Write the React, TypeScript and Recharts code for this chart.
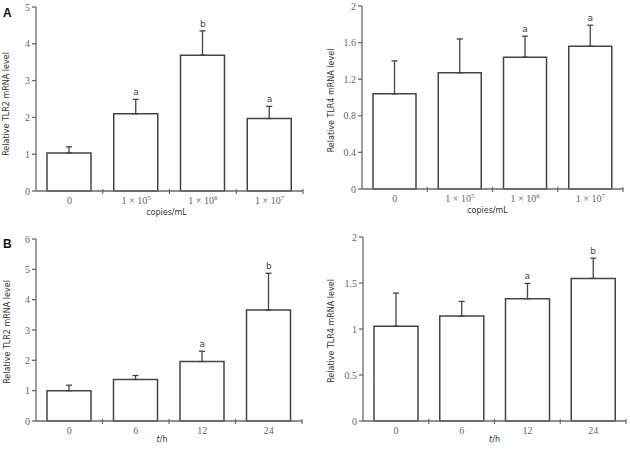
import React from 'react';
import { ComposedChart, Bar, Line, XAxis, YAxis, ErrorBar, LabelList, Label } from 'recharts';

// categories
const doseCats = ['0', '1 × 10', '1 × 10', '1 × 10'];
const doseExps = ['', '5', '6', '7'];
const timeCats = ['0', '6', '12', '24'];
const timeExps = ['', '', '', ''];

// TLR2 / TLR4 vs virus dose
const tlr2Dose = [1.03, 2.1, 3.69, 1.97];
const tlr2DoseErr = [0.17, 0.39, 0.66, 0.33];
const tlr2DoseSig = ['', 'a', 'b', 'a'];

const tlr4Dose = [1.04, 1.27, 1.44, 1.56];
const tlr4DoseErr = [0.36, 0.37, 0.23, 0.23];
const tlr4DoseSig = ['', '', 'a', 'a'];

// TLR2 / TLR4 vs time
const tlr2Time = [1.0, 1.37, 1.96, 3.66];
const tlr2TimeErr = [0.18, 0.13, 0.34, 1.21];
const tlr2TimeSig = ['', '', 'a', 'b'];

const tlr4Time = [1.03, 1.14, 1.33, 1.55];
const tlr4TimeErr = [0.36, 0.16, 0.165, 0.22];
const tlr4TimeSig = ['', '', 'a', 'b'];

// y ticks
const ticks5 = [0, 1, 2, 3, 4, 5];
const ticks6 = [0, 1, 2, 3, 4, 5, 6];
const ticks2a = [0, 0.4, 0.8, 1.2, 1.6, 2];
const ticks2b = [0, 0.5, 1, 1.5, 2];

const SERIF = '"Liberation Serif", "Times New Roman", serif';
const SANS = '"DejaVu Sans", Verdana, sans-serif';
const AXIS = '#6a6a6a';
const TICK = '#666';

const buildData = (cats: string[], exps: string[], vals: number[], errs: number[], sig: string[]) =>
  cats.map((c, i) => ({
    name: c + (exps[i] ? '^' + exps[i] : ''),
    value: vals[i],
    err: [0, errs[i]],
    top: vals[i] + errs[i],
    sig: sig[i],
  }));

const makeTick = (cats: string[], exps: string[], cw: number) => (props: any) => {
  const { x, y, index } = props;
  return (
    <g>
      <line x1={x + cw / 2} x2={x + cw / 2} y1={y - 2} y2={y + 3} stroke={AXIS} strokeWidth={1.2} />
      <text x={x} y={y + 12.5} textAnchor="middle" fontFamily={SERIF} fontSize={10} fill={TICK}>
        {cats[index]}
        {exps[index] ? (
          <tspan dy={-4} fontSize={7}>
            {exps[index]}
          </tspan>
        ) : null}
      </text>
    </g>
  );
};

type PanelProps = {
  left: number;
  top: number;
  height: number;
  margin: { top: number; right: number };
  yWidth: number;
  xHeight: number;
  barSize: number;
  cats: string[];
  exps: string[];
  vals: number[];
  errs: number[];
  sig: string[];
  yMax: number;
  yTicks: number[];
  yTitle: string;
  yTitleX: number;
  yTitleDy: number;
  xTitle: React.ReactNode;
  xTitleDx: number;
  xTitleDy: number;
};

const Panel = (p: PanelProps) => {
  const width = 315;
  const cw = (width - p.yWidth - p.margin.right) / 4;
  const data = buildData(p.cats, p.exps, p.vals, p.errs, p.sig);
  return (
    <div style={{ position: 'absolute', left: p.left, top: p.top }}>
      <ComposedChart
        width={width}
        height={p.height}
        data={data}
        margin={{ top: p.margin.top, right: p.margin.right, bottom: 0, left: 0 }}
      >
        <XAxis
          dataKey="name"
          height={p.xHeight}
          stroke={AXIS}
          strokeWidth={1.3}
          tickLine={false}
          tickSize={0}
          tickMargin={0}
          tick={makeTick(p.cats, p.exps, cw)}
          interval={0}
        >
          <Label
            content={(lp: any) => {
              const vb = lp.viewBox;
              return (
                <text
                  x={vb.x + vb.width / 2 + p.xTitleDx}
                  y={vb.y + p.xTitleDy}
                  textAnchor="middle"
                  fontFamily={SANS}
                  fontSize={8}
                  fill="#333"
                >
                  {p.xTitle}
                </text>
              );
            }}
          />
        </XAxis>
        <YAxis
          width={p.yWidth}
          domain={[0, p.yMax]}
          ticks={p.yTicks}
          stroke={AXIS}
          strokeWidth={1.3}
          tickSize={4}
          tickMargin={2}
          tick={{ fontFamily: SERIF, fontSize: 10, fill: TICK }}
        >
          <Label
            content={(lp: any) => {
              const vb = lp.viewBox;
              const cx = vb.x + p.yTitleX;
              const cy = vb.y + vb.height / 2 + p.yTitleDy;
              return (
                <text
                  transform={`translate(${cx}, ${cy}) rotate(-90)`}
                  textAnchor="middle"
                  dominantBaseline="middle"
                  fontFamily={SANS}
                  fontSize={8}
                  fill="#333"
                >
                  {p.yTitle}
                </text>
              );
            }}
          />
        </YAxis>
        <Bar
          dataKey="value"
          fill="#fff"
          stroke="#444"
          strokeWidth={1.5}
          barSize={p.barSize}
          isAnimationActive={false}
        >
          <ErrorBar dataKey="err" width={3} stroke="#444" strokeWidth={1.3} direction="y" isAnimationActive={false} />
        </Bar>
        <Line
          dataKey="top"
          stroke="none"
          dot={false}
          activeDot={false}
          legendType="none"
          isAnimationActive={false}
        >
          <LabelList dataKey="sig" position="top" offset={4} fontFamily={SANS} fontSize={9} fill="#444" />
        </Line>
      </ComposedChart>
    </div>
  );
};

const letterStyle: React.CSSProperties = {
  position: 'absolute',
  fontFamily: '"Liberation Sans", Arial, sans-serif',
  fontWeight: 'bold',
  fontSize: 12,
  color: '#111',
  lineHeight: '12px',
};

export default function App() {
  return (
    <div style={{ position: 'absolute', left: 0, top: 0, width: 630, height: 451, background: '#fff' }}>
      <Panel
        left={0}
        top={0}
        height={220}
        margin={{ top: 7, right: 12 }}
        yWidth={36}
        xHeight={29}
        barSize={44}
        cats={doseCats}
        exps={doseExps}
        vals={tlr2Dose}
        errs={tlr2DoseErr}
        sig={tlr2DoseSig}
        yMax={5}
        yTicks={ticks5}
        yTitle="Relative TLR2 mRNA level"
        yTitleX={6.5}
        yTitleDy={5}
        xTitle="copies/mL"
        xTitleDx={-3}
        xTitleDy={24}
      />
      <Panel
        left={315}
        top={0}
        height={220}
        margin={{ top: 6, right: 7 }}
        yWidth={47}
        xHeight={31}
        barSize={43}
        cats={doseCats}
        exps={doseExps}
        vals={tlr4Dose}
        errs={tlr4DoseErr}
        sig={tlr4DoseSig}
        yMax={2}
        yTicks={ticks2a}
        yTitle="Relative TLR4 mRNA level"
        yTitleX={16.3}
        yTitleDy={3}
        xTitle="copies/mL"
        xTitleDx={-5}
        xTitleDy={24}
      />
      <Panel
        left={0}
        top={220}
        height={231}
        margin={{ top: 19, right: 13 }}
        yWidth={36}
        xHeight={30}
        barSize={44}
        cats={timeCats}
        exps={timeExps}
        vals={tlr2Time}
        errs={tlr2TimeErr}
        sig={tlr2TimeSig}
        yMax={6}
        yTicks={ticks6}
        yTitle="Relative TLR2 mRNA level"
        yTitleX={7}
        yTitleDy={2}
        xTitle={
          <>
            <tspan fontStyle="italic">t</tspan>/h
          </>
        }
        xTitleDx={-7}
        xTitleDy={21}
      />
      <Panel
        left={315}
        top={220}
        height={231}
        margin={{ top: 17, right: 4 }}
        yWidth={48}
        xHeight={30}
        barSize={44}
        cats={timeCats}
        exps={timeExps}
        vals={tlr4Time}
        errs={tlr4TimeErr}
        sig={tlr4TimeSig}
        yMax={2}
        yTicks={ticks2b}
        yTitle="Relative TLR4 mRNA level"
        yTitleX={16}
        yTitleDy={2}
        xTitle={
          <>
            <tspan fontStyle="italic">t</tspan>/h
          </>
        }
        xTitleDx={0}
        xTitleDy={21}
      />
      <div style={{ ...letterStyle, left: 3, top: 7 }}>A</div>
      <div style={{ ...letterStyle, left: 3, top: 238 }}>B</div>
    </div>
  );
}
